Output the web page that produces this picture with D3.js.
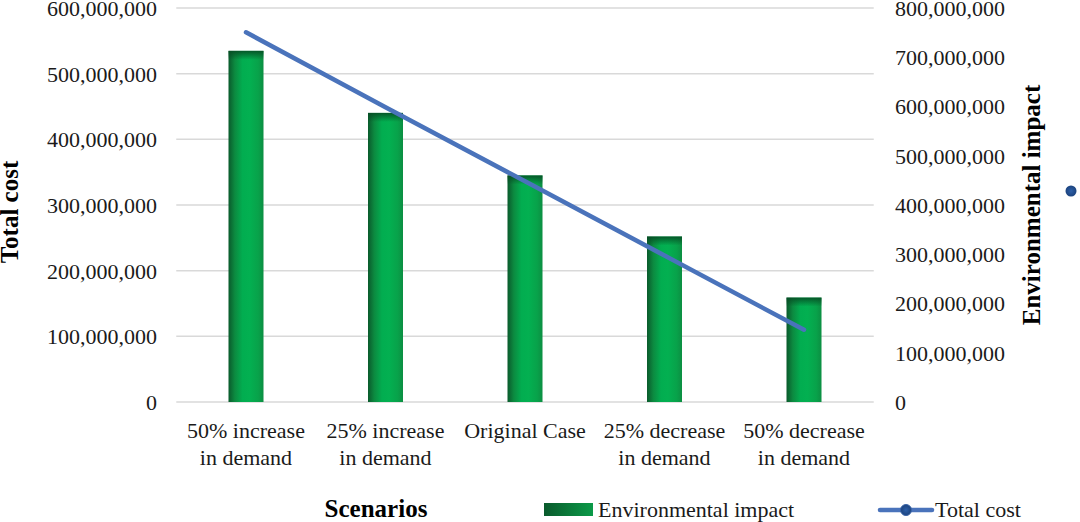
<!DOCTYPE html>
<html><head><meta charset="utf-8">
<script src="https://cdn.jsdelivr.net/npm/d3@7"></script>
<style>
html,body{margin:0;padding:0;background:#fff;}
svg{display:block;font-family:"Liberation Serif","Times New Roman",serif;}
</style></head>
<body>
<svg id="chart" width="1080" height="522"></svg>
<script>
const categories = [["50% increase","in demand"],["25% increase","in demand"],["Original Case"],["25% decrease","in demand"],["50% decrease","in demand"]];
const envImpact = [713000000, 587000000, 460000000, 336000000, 212000000];
const totalCost = [563000000, 449000000, 336000000, 223000000, 110000000];
const leftTicks = [0,100000000,200000000,300000000,400000000,500000000,600000000];
const rightTicks = [0,100000000,200000000,300000000,400000000,500000000,600000000,700000000,800000000];

const svg = d3.select("#chart");
const x0 = 176.25, x1 = 873.75, yTop = 8, yBot = 402;
const keys = categories.map((c,i)=>i);
const x = d3.scaleBand().domain(keys).range([x0,x1]).paddingInner(0).paddingOuter(0);
const yL = d3.scaleLinear().domain([0,600000000]).range([yBot,yTop]);
const yR = d3.scaleLinear().domain([0,800000000]).range([yBot,yTop]);
const fmt = d3.format(",");

const defs = svg.append("defs");
const g1 = defs.append("linearGradient").attr("id","barGrad").attr("x1","0").attr("x2","1").attr("y1","0").attr("y2","0");
[["0%","#0a5a2c"],["18%","#0c8a40"],["40%","#02ad50"],["60%","#03b051"],["85%","#08a24a"],["100%","#0c8e42"]].forEach(s=>g1.append("stop").attr("offset",s[0]).attr("stop-color",s[1]));
const g2 = defs.append("linearGradient").attr("id","topGrad").attr("x1","0").attr("x2","0").attr("y1","0").attr("y2","1");
g2.append("stop").attr("offset","0%").attr("stop-color","#064d24").attr("stop-opacity",0.9);
g2.append("stop").attr("offset","100%").attr("stop-color","#064d24").attr("stop-opacity",0);
const g3 = defs.append("linearGradient").attr("id","legGrad").attr("x1","0").attr("x2","1").attr("y1","0").attr("y2","0");
g3.append("stop").attr("offset","0%").attr("stop-color","#0a5a2c");
g3.append("stop").attr("offset","100%").attr("stop-color","#0b9a48");
const g4 = defs.append("radialGradient").attr("id","dotGrad");
g4.append("stop").attr("offset","0%").attr("stop-color","#2d5fa8");
g4.append("stop").attr("offset","100%").attr("stop-color","#1c437e");

// gridlines
svg.append("g").selectAll("line").data(leftTicks).join("line")
  .attr("x1",x0).attr("x2",x1).attr("y1",d=>yL(d)).attr("y2",d=>yL(d))
  .attr("stroke","#d9d9d9").attr("stroke-width",1.5);

// left axis
const axL = d3.axisLeft(yL).tickValues(leftTicks).tickFormat(fmt).tickSize(0).tickPadding(0);
const gL = svg.append("g").attr("transform","translate(157,0)").call(axL);
gL.select(".domain").remove();
gL.selectAll("text").attr("font-family","Liberation Serif").attr("font-size",22).attr("fill","#1a1a1a").attr("dy","0.34em");

// right axis
const axR = d3.axisRight(yR).tickValues(rightTicks).tickFormat(fmt).tickSize(0).tickPadding(0);
const gR = svg.append("g").attr("transform","translate(895,0)").call(axR);
gR.select(".domain").remove();
gR.selectAll("text").attr("font-family","Liberation Serif").attr("font-size",22).attr("fill","#1a1a1a").attr("dy","0.34em");

// bars (environmental impact on right axis)
const bw = 35;
const bars = svg.append("g");
bars.selectAll("rect.bar").data(envImpact).join("rect").attr("class","bar")
  .attr("x",(d,i)=>x(i)+x.bandwidth()/2-bw/2).attr("width",bw)
  .attr("y",d=>yR(d)).attr("height",d=>yBot-yR(d))
  .attr("fill","url(#barGrad)");
bars.selectAll("rect.top").data(envImpact).join("rect").attr("class","top")
  .attr("x",(d,i)=>x(i)+x.bandwidth()/2-bw/2).attr("width",bw)
  .attr("y",d=>yR(d)).attr("height",9)
  .attr("fill","url(#topGrad)");

// line (total cost on left axis)
const line = d3.line().x((d,i)=>x(i)+x.bandwidth()/2).y(d=>yL(d));
svg.append("path").datum(totalCost).attr("d",line).attr("fill","none")
  .attr("stroke","#4a73bb").attr("stroke-width",4.5).attr("stroke-linecap","round");

// category labels
const cat = svg.append("g");
categories.forEach((lines,i)=>{
  const t = cat.append("text").attr("x",x(i)+x.bandwidth()/2).attr("y",438)
    .attr("text-anchor","middle").attr("font-size",22).attr("fill","#1a1a1a");
  lines.forEach((l,j)=>t.append("tspan").attr("x",x(i)+x.bandwidth()/2).attr("dy",j===0?0:27).text(l));
});

// axis titles
svg.append("text").attr("transform","translate(18,212) rotate(-90)").attr("text-anchor","middle")
  .attr("font-size",25).attr("font-weight","bold").attr("fill","#000").text("Total cost");
svg.append("text").attr("transform","translate(1040,205) rotate(-90)").attr("text-anchor","middle")
  .attr("font-size",25).attr("font-weight","bold").attr("fill","#000").text("Environmental impact");
svg.append("text").attr("x",376).attr("y",517).attr("text-anchor","middle")
  .attr("font-size",25).attr("font-weight","bold").attr("fill","#000").text("Scenarios");

// stray marker at right
svg.append("circle").attr("cx",1071).attr("cy",191).attr("r",5.5).attr("fill","url(#dotGrad)");

// legend
const leg = svg.append("g");
leg.append("rect").attr("x",544).attr("y",503).attr("width",49).attr("height",13).attr("fill","url(#legGrad)");
leg.append("text").attr("x",598).attr("y",517).attr("font-size",22).attr("fill","#1a1a1a").text("Environmental impact");
leg.append("line").attr("x1",880).attr("x2",932).attr("y1",510).attr("y2",510).attr("stroke","#4a73bb").attr("stroke-width",4.5).attr("stroke-linecap","round");
leg.append("circle").attr("cx",906).attr("cy",510).attr("r",5.5).attr("fill","url(#dotGrad)").attr("stroke","#3a64a8").attr("stroke-width",1);
leg.append("text").attr("x",935).attr("y",517).attr("font-size",22).attr("fill","#1a1a1a").text("Total cost");
</script>
</body></html>
